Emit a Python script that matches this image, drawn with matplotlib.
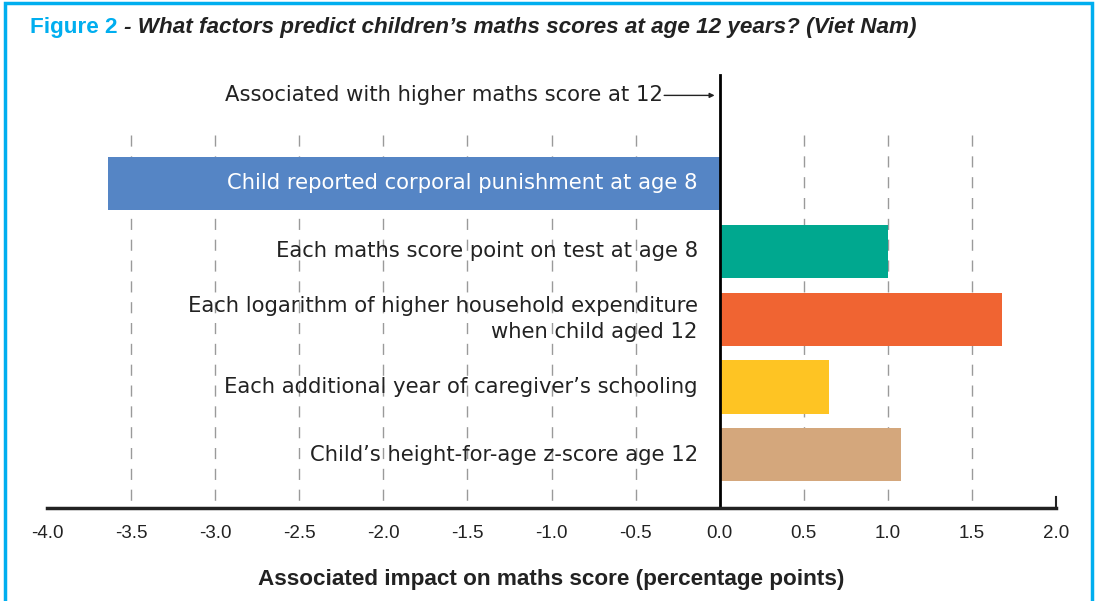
import matplotlib
matplotlib.use("Agg")
import matplotlib.pyplot as plt
from matplotlib.patches import Rectangle

categories = [
    "Child reported corporal punishment at age 8",
    "Each maths score point on test at age 8",
    "Each logarithm of higher household expenditure\nwhen child aged 12",
    "Each additional year of caregiver\u2019s schooling",
    "Child\u2019s height-for-age z-score age 12",
]
values = [-3.64, 1.00, 1.68, 0.65, 1.08]
colors = ["#5585C5", "#00A88F", "#F06432", "#FEC423", "#D4A77C"]
xticks = [-4.0, -3.5, -3.0, -2.5, -2.0, -1.5, -1.0, -0.5, 0.0, 0.5, 1.0, 1.5, 2.0]
gridx = [-3.5, -3.0, -2.5, -2.0, -1.5, -1.0, -0.5, 0.5, 1.0, 1.5]

narrow = "Liberation Sans"
reg = "DejaVu Sans"

fig = plt.figure(figsize=(10.96, 6.01), dpi=100)
ax = fig.add_axes([47/1096, 93/601, (1056-47)/1096, (508-75)/601])

ypos = list(range(len(categories)))
ax.barh(ypos, values, height=0.78, color=colors, zorder=2)
ax.set_ylim(4.78, -1.59)
ax.set_xlim(-4.0, 2.0)

for gx in gridx:
    ax.plot([gx, gx], [-0.71, 4.78], color="#9a9a9a", lw=1.0,
            linestyle=(0, (8, 7)), zorder=1)

ax.plot([0, 0], [-1.59, 4.78], color="black", lw=2.0, zorder=3, clip_on=False)
ax.plot([-4.0, 2.0], [4.78, 4.78], color="#222222", lw=2.5, zorder=3, clip_on=False)
ax.plot([2.0, 2.0], [4.78, 4.62], color="#222222", lw=1.5, zorder=3, clip_on=False)

for i, (lab, v) in enumerate(zip(categories, values)):
    col = "white" if v < 0 else "#222222"
    ax.text(-0.13, i, lab, ha="right", va="center", fontsize=15.2,
            family=reg, color=col, multialignment="right", zorder=4,
            linespacing=1.38)

ax.text(-0.34, -1.29, "Associated with higher maths score at 12", ha="right",
        va="center", fontsize=15.2, family=reg, color="#222222")
ax.annotate("", xy=(-0.03, -1.29), xytext=(-0.33, -1.29),
            arrowprops=dict(arrowstyle="-|>", color="#222222", lw=1.0,
                            mutation_scale=7, shrinkA=0, shrinkB=0))

for s in ax.spines.values():
    s.set_visible(False)
ax.set_yticks([])
ax.set_xticks(xticks)
ax.set_xticklabels([f"{t:.1f}" for t in xticks], family=narrow, fontsize=13.5,
                   color="#222222")
ax.tick_params(axis="x", length=0, pad=12)
ax.set_xlabel("Associated impact on maths score (percentage points)",
              family=narrow, fontsize=16.2, fontweight="bold", color="#222222",
              labelpad=20)

# border
fig.patches.append(Rectangle((5/1096, -0.05), 1087/1096, 1.05 - 3/601,
                             transform=fig.transFigure, fill=False,
                             edgecolor="#00AEEF", lw=2.5))

t1 = fig.text(30/1096, 1 - 28/601, "Figure 2", family=narrow, fontsize=16.2,
              fontweight="bold", color="#00AEEF", va="center", ha="left")
fig.canvas.draw()
bb = t1.get_window_extent()
fig.text((bb.x1 + 6)/1096, 1 - 28/601,
         "- What factors predict children\u2019s maths scores at age 12 years? (Viet Nam)",
         family=narrow, fontsize=16.2, fontweight="bold", fontstyle="italic",
         color="#222222", va="center", ha="left")

fig.savefig("out.png", dpi=100)
